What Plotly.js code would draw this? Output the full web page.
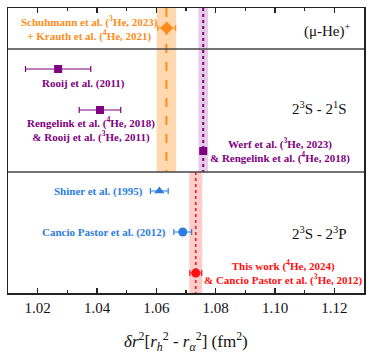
<!DOCTYPE html>
<html>
<head>
<meta charset="utf-8">
<script src="https://cdn.plot.ly/plotly-3.0.1.min.js"></script>
<style>body{margin:0}#chart{width:374px;height:360px}</style>
</head>
<body>
<div id="chart"></div>
<script>
// row positions (top to bottom), x values and 1-sigma errors
var muon_x = [1.0635], muon_err = [0.003], muon_y = [2.0];
var s21_x = [1.0269, 1.041, 1.0758], s21_err = [0.011, 0.007, 0.0008], s21_y = [6.1, 10.2, 14.3];
var shiner_x = [1.061], shiner_err = [0.003], shiner_y = [18.3];
var cancio_x = [1.0689], cancio_err = [0.003], cancio_y = [22.4];
var thiswork_x = [1.0733], thiswork_err = [0.002], thiswork_y = [26.5];

// bands: [center, half width]
var muon_band = [1.0634, 0.0033];
var s21_band = [1.0758, 0.0016];
var s23_band = [1.0733, 0.0022];

var panel_edges = [0, 4.1, 16.4, 28.5];

var orange = '#ff8c1a', purple = '#800080', blue = '#2a7de1', red = '#ff1010';
var serif = 'Times New Roman, Liberation Serif, serif';

function errTrace(x, y, err, color, symbol, size) {
	return {
		type: 'scatter', mode: 'markers', x: x, y: y,
		marker: {color: color, symbol: symbol, size: size},
		error_x: {type: 'data', array: err, visible: true, color: color, thickness: 1.2, width: 3},
		showlegend: false, hoverinfo: 'x'
	};
}

var traces = [
	errTrace(muon_x, muon_y, muon_err, orange, 'diamond', 10),
	errTrace(s21_x, s21_y, s21_err, purple, 'square', 8),
	errTrace(shiner_x, shiner_y, shiner_err, blue, 'triangle-up', 9),
	errTrace(cancio_x, cancio_y, cancio_err, blue, 'circle', 9),
	errTrace(thiswork_x, thiswork_y, thiswork_err, red, 'circle', 9)
];

var shapes = [
	// bands
	{type: 'rect', xref: 'x', yref: 'y', x0: muon_band[0] - muon_band[1], x1: muon_band[0] + muon_band[1],
		y0: panel_edges[0], y1: panel_edges[2], fillcolor: '#ffd8b0', line: {width: 0}, layer: 'below'},
	{type: 'rect', xref: 'x', yref: 'y', x0: s21_band[0] - s21_band[1], x1: s21_band[0] + s21_band[1],
		y0: panel_edges[0], y1: panel_edges[2], fillcolor: '#e6cbe6', line: {width: 0}, layer: 'below'},
	{type: 'rect', xref: 'x', yref: 'y', x0: s23_band[0] - s23_band[1], x1: s23_band[0] + s23_band[1],
		y0: panel_edges[2], y1: panel_edges[3], fillcolor: '#ffcccc', line: {width: 0}, layer: 'below'},
	// center lines
	{type: 'line', xref: 'x', yref: 'y', x0: muon_band[0], x1: muon_band[0], y0: panel_edges[0], y1: panel_edges[2],
		line: {color: orange, width: 2, dash: 'dash'}, layer: 'below'},
	{type: 'line', xref: 'x', yref: 'y', x0: s21_band[0], x1: s21_band[0], y0: panel_edges[0], y1: panel_edges[2],
		line: {color: purple, width: 2, dash: 'dot'}, layer: 'below'},
	{type: 'line', xref: 'x', yref: 'y', x0: s23_band[0], x1: s23_band[0], y0: panel_edges[2], y1: panel_edges[3],
		line: {color: red, width: 1.5, dash: 'dot'}, layer: 'below'},
	// panel separators
	{type: 'line', xref: 'paper', yref: 'y', x0: 0, x1: 1, y0: panel_edges[1], y1: panel_edges[1], line: {color: '#444', width: 1.5}},
	{type: 'line', xref: 'paper', yref: 'y', x0: 0, x1: 1, y0: panel_edges[2], y1: panel_edges[2], line: {color: '#444', width: 1.5}}
];

function label(x, y, text, color, anchor, size) {
	return {x: x, y: y, xref: 'x', yref: 'y', text: text, showarrow: false,
		xanchor: anchor || 'center', yanchor: 'middle', align: 'center',
		font: {family: serif, size: size || 11, color: color}};
}

var annotations = [
	label(1.0376, 2.0, '<b>Schuhmann et al. (<sup>3</sup>He, 2023)<br>+ Krauth et al. (<sup>4</sup>He, 2021)</b>', orange),
	label(1.1263, 2.2, '(μ-He)<sup>+</sup>', '#111', 'right', 15),
	label(1.0353, 7.5, '<b>Rooij et al. (2011)</b>', purple),
	label(1.038, 12.15, '<b>Rengelink et al. (<sup>4</sup>He, 2018)<br>& Rooij et al. (<sup>3</sup>He, 2011)</b>', purple),
	label(1.1249, 10.0, '2<sup>3</sup>S - 2<sup>1</sup>S', '#111', 'right', 15),
	label(1.1017, 14.25, '<b>Werf et al. (<sup>3</sup>He, 2023)<br>& Rengelink et al. (<sup>4</sup>He, 2018)</b>', purple),
	label(1.0562, 18.3, '<b>Shiner et al. (1995)</b>', blue, 'right'),
	label(1.0639, 22.4, '<b>Cancio Pastor et al. (2012)</b>', blue, 'right'),
	label(1.1249, 22.5, '2<sup>3</sup>S - 2<sup>3</sup>P', '#111', 'right', 15),
	label(1.103, 26.45, '<b>This work (<sup>4</sup>He, 2024)<br>& Cancio Pastor et al. (<sup>3</sup>He, 2012)</b>', red),
	// x axis title
	{x: 0.5, y: -0.17, xref: 'paper', yref: 'paper', showarrow: false, xanchor: 'center', yanchor: 'middle',
		text: '<i>δr</i><sup>2</sup>[<i>r</i><sub><i>h</i></sub><sup>2</sup> - <i>r</i><sub><i>α</i></sub><sup>2</sup>] (fm<sup>2</sup>)',
		font: {family: serif, size: 17, color: '#111'}}
];

var layout = {
	width: 374, height: 360,
	margin: {l: 8, r: 10, t: 8, b: 67},
	paper_bgcolor: 'white', plot_bgcolor: 'white',
	font: {family: serif, color: '#111'},
	xaxis: {
		range: [1.01, 1.13], tickvals: [1.02, 1.04, 1.06, 1.08, 1.10, 1.12],
		ticktext: ['1.02', '1.04', '1.06', '1.08', '1.10', '1.12'],
		ticks: 'inside', ticklen: 5, tickwidth: 1.2, tickcolor: '#222',
		minor: {tickvals: [1.03, 1.05, 1.07, 1.09, 1.11], ticks: 'inside', ticklen: 3, tickcolor: '#222'},
		mirror: 'allticks', showline: true, linecolor: '#222', linewidth: 1.5,
		showgrid: false, zeroline: false, tickfont: {family: serif, size: 15, color: '#111'}
	},
	yaxis: {
		range: [28.5, 0], showticklabels: false, ticks: '', showgrid: false, zeroline: false,
		mirror: true, showline: true, linecolor: '#222', linewidth: 1.5
	},
	shapes: shapes,
	annotations: annotations
};

Plotly.newPlot('chart', traces, layout, {displayModeBar: false, staticPlot: true});
</script>
</body>
</html>
